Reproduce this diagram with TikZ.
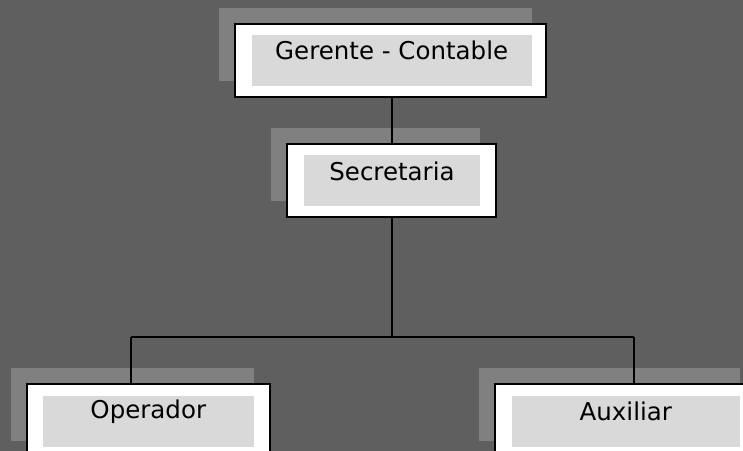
\documentclass[tikz,border=0pt]{standalone}
\usepackage{fontspec}
\setmainfont{DejaVu Sans}
\definecolor{bggray}{HTML}{5F5F5F}
\definecolor{shadowgray}{HTML}{808080}
\definecolor{innergray}{HTML}{D9D9D9}
\tikzset{
  outerbox/.style={draw=black, fill=white, line width=2pt, rectangle, inner sep=0pt},
  shadowbox/.style={fill=shadowgray},
  innerbox/.style={fill=innergray},
  conn/.style={draw=black, line width=2pt},
  lbl/.style={font=\fontsize{24.5}{28}\selectfont, text=black, inner sep=0pt, anchor=center}
}
\begin{document}
\begin{tikzpicture}[x=1pt, y=-1pt]
\useasboundingbox (0,0) rectangle (743,450);
\clip (0,0) rectangle (743,450);
\fill[bggray] (-5,-5) rectangle (750,460);
% shadows
\path[shadowbox] (219,8) rectangle (532,81);
\path[shadowbox] (271,128) rectangle (480,201);
\path[shadowbox] (11,368) rectangle (254,441);
\path[shadowbox] (479,368) rectangle (740,441);
% connectors coordinates
\coordinate (ol) at (131,336.7);
\coordinate (ar) at (634,336.7);
% outer boxes
\node[outerbox, minimum width=311pt, minimum height=73pt] (G) at (390.5,60.5) {};
\node[outerbox, minimum width=209pt, minimum height=73pt] (S) at (391.5,180.3) {};
\node[outerbox, minimum width=243pt, minimum height=73pt] (O) at (148.3,420.5) {};
\node[outerbox, minimum width=260pt, minimum height=73pt] (A) at (625,420.5) {};
% inner fills
\path[innerbox] (251.7,35) rectangle (531.7,85.7);
\path[innerbox] (304,155) rectangle (480,205.7);
\path[innerbox] (42.7,396) rectangle (254,446.7);
\path[innerbox] (511.7,396) rectangle (740,446.7);
% labels
\node[lbl] (tG) at (391.7,50.5) {Gerente - Contable};
\node[lbl] (tS) at (392,171.5) {Secretaria};
\node[lbl] (tO) at (148.3,411.5) {Operador};
\node[lbl] (tA) at (625.8,411.5) {Auxiliar};
% connectors
\draw[conn] (G.south -| S.south) -- (S.north);
\draw[conn] (S.south) -- (S.south |- ol);
\draw[conn] (ol) -- (ar);
\draw[conn] (ol) -- (ol |- O.north);
\draw[conn] (ar) -- (ar |- A.north);
\end{tikzpicture}
\end{document}
